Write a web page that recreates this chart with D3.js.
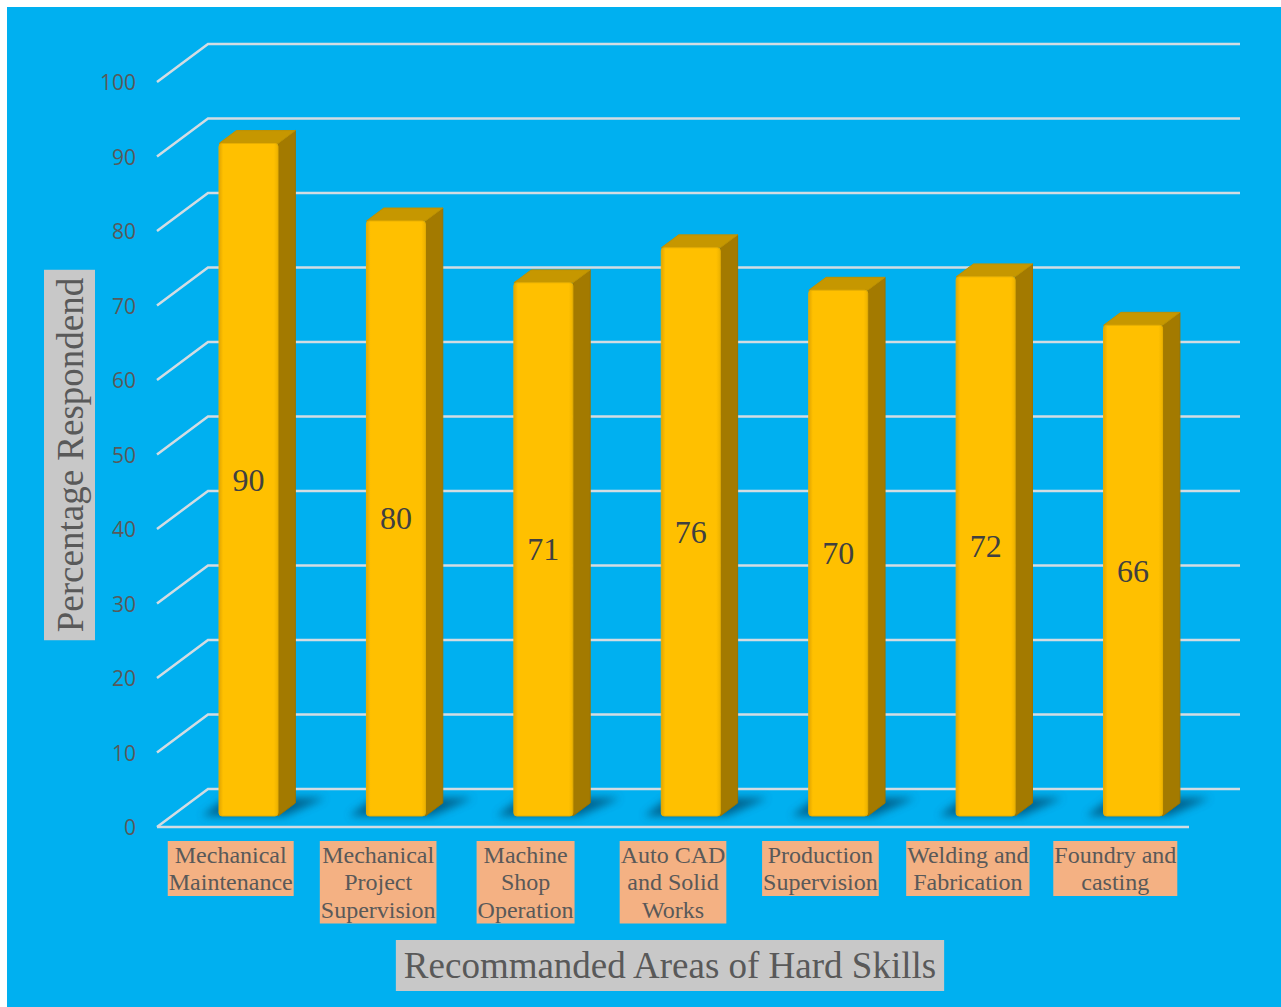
<!DOCTYPE html>
<html lang="en">
<head>
<meta charset="UTF-8">
<title>Recommanded Areas of Hard Skills</title>
<style>
  body { margin: 0; background: #ffffff; }
  svg { display: block; }
</style>
<script src="https://d3js.org/d3.v7.min.js"></script>
</head>
<body>
<svg width="1281" height="1007"></svg>
<script>
// data
const categories = [
  ["Mechanical", "Maintenance"],
  ["Mechanical", "Project", "Supervision"],
  ["Machine", "Shop", "Operation"],
  ["Auto CAD", "and Solid", "Works"],
  ["Production", "Supervision"],
  ["Welding and", "Fabrication"],
  ["Foundry and", "casting"]
];
const values = [90, 79.6, 71.3, 76, 70.3, 72.1, 65.6];
const yTicks = [0, 10, 20, 30, 40, 50, 60, 70, 80, 90, 100];
const yTitle = "Percentage Respondend";
const xTitle = "Recommanded Areas of Hard Skills";

const svg = d3.select("svg");
const W = +svg.attr("width"), H = +svg.attr("height");

const serif = "'Liberation Serif', 'Times New Roman', serif";
const sans = "'Open Sans', 'Liberation Sans', sans-serif";

// chart area background
svg.append("rect")
    .attr("x", 7).attr("y", 7)
    .attr("width", W - 7).attr("height", H - 7)
    .attr("fill", "#00B0F0");

// 3d layout: back wall + depth vector towards viewer
const x0 = 208, x1 = 1240;
const dx = -51, dy = 38;
const faceDepth = 0.71;   // bar front face, fraction of floor depth
const barDepth = 0.34;
const barW = 59;

const y = d3.scaleLinear().domain([0, 100]).range([789, 44]);
const x = d3.scaleBand().domain(d3.range(categories.length)).range([x0, x1]);

const defs = svg.append("defs");
defs.append("filter").attr("id", "blur")
    .attr("x", "-50%").attr("y", "-50%").attr("width", "200%").attr("height", "200%")
  .append("feGaussianBlur").attr("stdDeviation", 4);

const grad = defs.append("linearGradient").attr("id", "face")
    .attr("x1", "0%").attr("x2", "100%").attr("y1", "0%").attr("y2", "0%");
grad.append("stop").attr("offset", "0%").attr("stop-color", "#E3A600");
grad.append("stop").attr("offset", "7%").attr("stop-color", "#FFC000");
grad.append("stop").attr("offset", "93%").attr("stop-color", "#FFC000");
grad.append("stop").attr("offset", "100%").attr("stop-color", "#EDB200");

// gridlines
const grid = svg.append("g")
    .attr("fill", "none")
    .attr("stroke", "#D3DCE2")
    .attr("stroke-width", 2.5);

yTicks.forEach(v => {
    grid.append("polyline")
        .attr("points", [[x0 + dx, y(v) + dy], [x0, y(v)], [x1, y(v)]].join(" "));
});
grid.append("line")
    .attr("x1", x0 + dx).attr("y1", y(0) + dy)
    .attr("x2", x1 + dx).attr("y2", y(0) + dy);

// tick labels
svg.append("g").selectAll("text")
    .data(yTicks)
    .join("text")
    .attr("x", 136)
    .attr("y", d => y(d) + dy)
    .attr("text-anchor", "end")
    .attr("dominant-baseline", "central")
    .attr("font-family", sans)
    .attr("font-size", 21)
    .attr("fill", "#595959")
    .text(d => d);

// bars
const sx = -barDepth * dx, sy = -barDepth * dy;
const bars = values.map((v, i) => {
    const L = x(i) + x.bandwidth() / 2 + faceDepth * dx + 3 - barW / 2;
    return {
        v: v,
        L: L,
        R: L + barW,
        T: y(v) + faceDepth * dy - 2,
        B: y(0) + faceDepth * dy
    };
});

svg.append("g").selectAll("polygon")
    .data(bars)
    .join("polygon")
    .attr("points", d => [
        [d.L - 17, d.B], [d.R + 6, d.B],
        [d.R + sx + 30, d.B + sy - 5], [d.L + sx - 10, d.B + sy - 5]
    ].join(" "))
    .attr("fill", "#004F75")
    .attr("opacity", 0.8)
    .attr("filter", "url(#blur)");

const bg = svg.append("g").selectAll("g")
    .data(bars)
    .join("g");

bg.append("polygon")
    .attr("points", d => [[d.R, d.T], [d.R + sx, d.T + sy], [d.R + sx, d.B + sy], [d.R, d.B]].join(" "))
    .attr("fill", "#A37A00")
    .attr("stroke", "#9A7300")
    .attr("stroke-width", 1)
    .attr("stroke-linejoin", "round");

bg.append("polygon")
    .attr("points", d => [[d.L, d.T], [d.R, d.T], [d.R + sx, d.T + sy], [d.L + sx, d.T + sy]].join(" "))
    .attr("fill", "#C69700")
    .attr("stroke", "#BF9100")
    .attr("stroke-width", 1)
    .attr("stroke-linejoin", "round");

bg.append("rect")
    .attr("x", d => d.L)
    .attr("y", d => d.T)
    .attr("width", barW)
    .attr("height", d => d.B - d.T)
    .attr("rx", 3)
    .attr("fill", "url(#face)")
    .attr("stroke", "#E8AE00")
    .attr("stroke-width", 1);

// data labels
bg.append("text")
    .attr("x", d => (d.L + d.R) / 2)
    .attr("y", d => (d.T + d.B) / 2)
    .attr("text-anchor", "middle")
    .attr("dominant-baseline", "central")
    .attr("font-family", serif)
    .attr("font-size", 32)
    .attr("fill", "#404040")
    .text(d => d3.format(".0f")(d.v));

// category labels
const lineH = 27.5, labelTop = 841;
const cat = svg.append("g").selectAll("g")
    .data(categories)
    .join("g")
    .attr("transform", (d, i) => `translate(${x(i) + x.bandwidth() / 2 + dx},${labelTop})`);

cat.each(function(lines) {
    const g = d3.select(this);
    const box = g.append("rect").attr("fill", "#F4B183");
    let maxW = 0;
    lines.forEach((t, k) => {
        const txt = g.append("text")
            .attr("x", 0)
            .attr("y", lineH * (k + 0.5))
            .attr("text-anchor", "middle")
            .attr("dominant-baseline", "central")
            .attr("font-family", serif)
            .attr("font-size", 24)
            .attr("fill", "#595959")
            .text(t);
        maxW = Math.max(maxW, txt.node().getComputedTextLength());
    });
    box.attr("x", -maxW / 2 - 1).attr("y", 0)
        .attr("width", maxW + 2).attr("height", lineH * lines.length);
});

// y axis title
const yt = svg.append("g").attr("transform", "translate(70,455) rotate(-90)");
const ytBox = yt.append("rect").attr("fill", "#C8C8C8");
const ytText = yt.append("text")
    .attr("x", 0).attr("y", 13)
    .attr("text-anchor", "middle")
    .attr("font-family", serif)
    .attr("font-size", 37)
    .attr("fill", "#595959")
    .text(yTitle);
const ytLen = ytText.node().getComputedTextLength();
ytBox.attr("x", -ytLen / 2 - 8).attr("y", -26).attr("width", ytLen + 16).attr("height", 51);

// x axis title
const xt = svg.append("g").attr("transform", "translate(670,0)");
const xtBox = xt.append("rect").attr("fill", "#C8C8C8");
const xtText = xt.append("text")
    .attr("x", 0).attr("y", 978)
    .attr("text-anchor", "middle")
    .attr("font-family", serif)
    .attr("font-size", 37)
    .attr("fill", "#595959")
    .text(xTitle);
const xtLen = xtText.node().getComputedTextLength();
xtBox.attr("x", -xtLen / 2 - 8).attr("y", 940).attr("width", xtLen + 16).attr("height", 51);
</script>
</body>
</html>
